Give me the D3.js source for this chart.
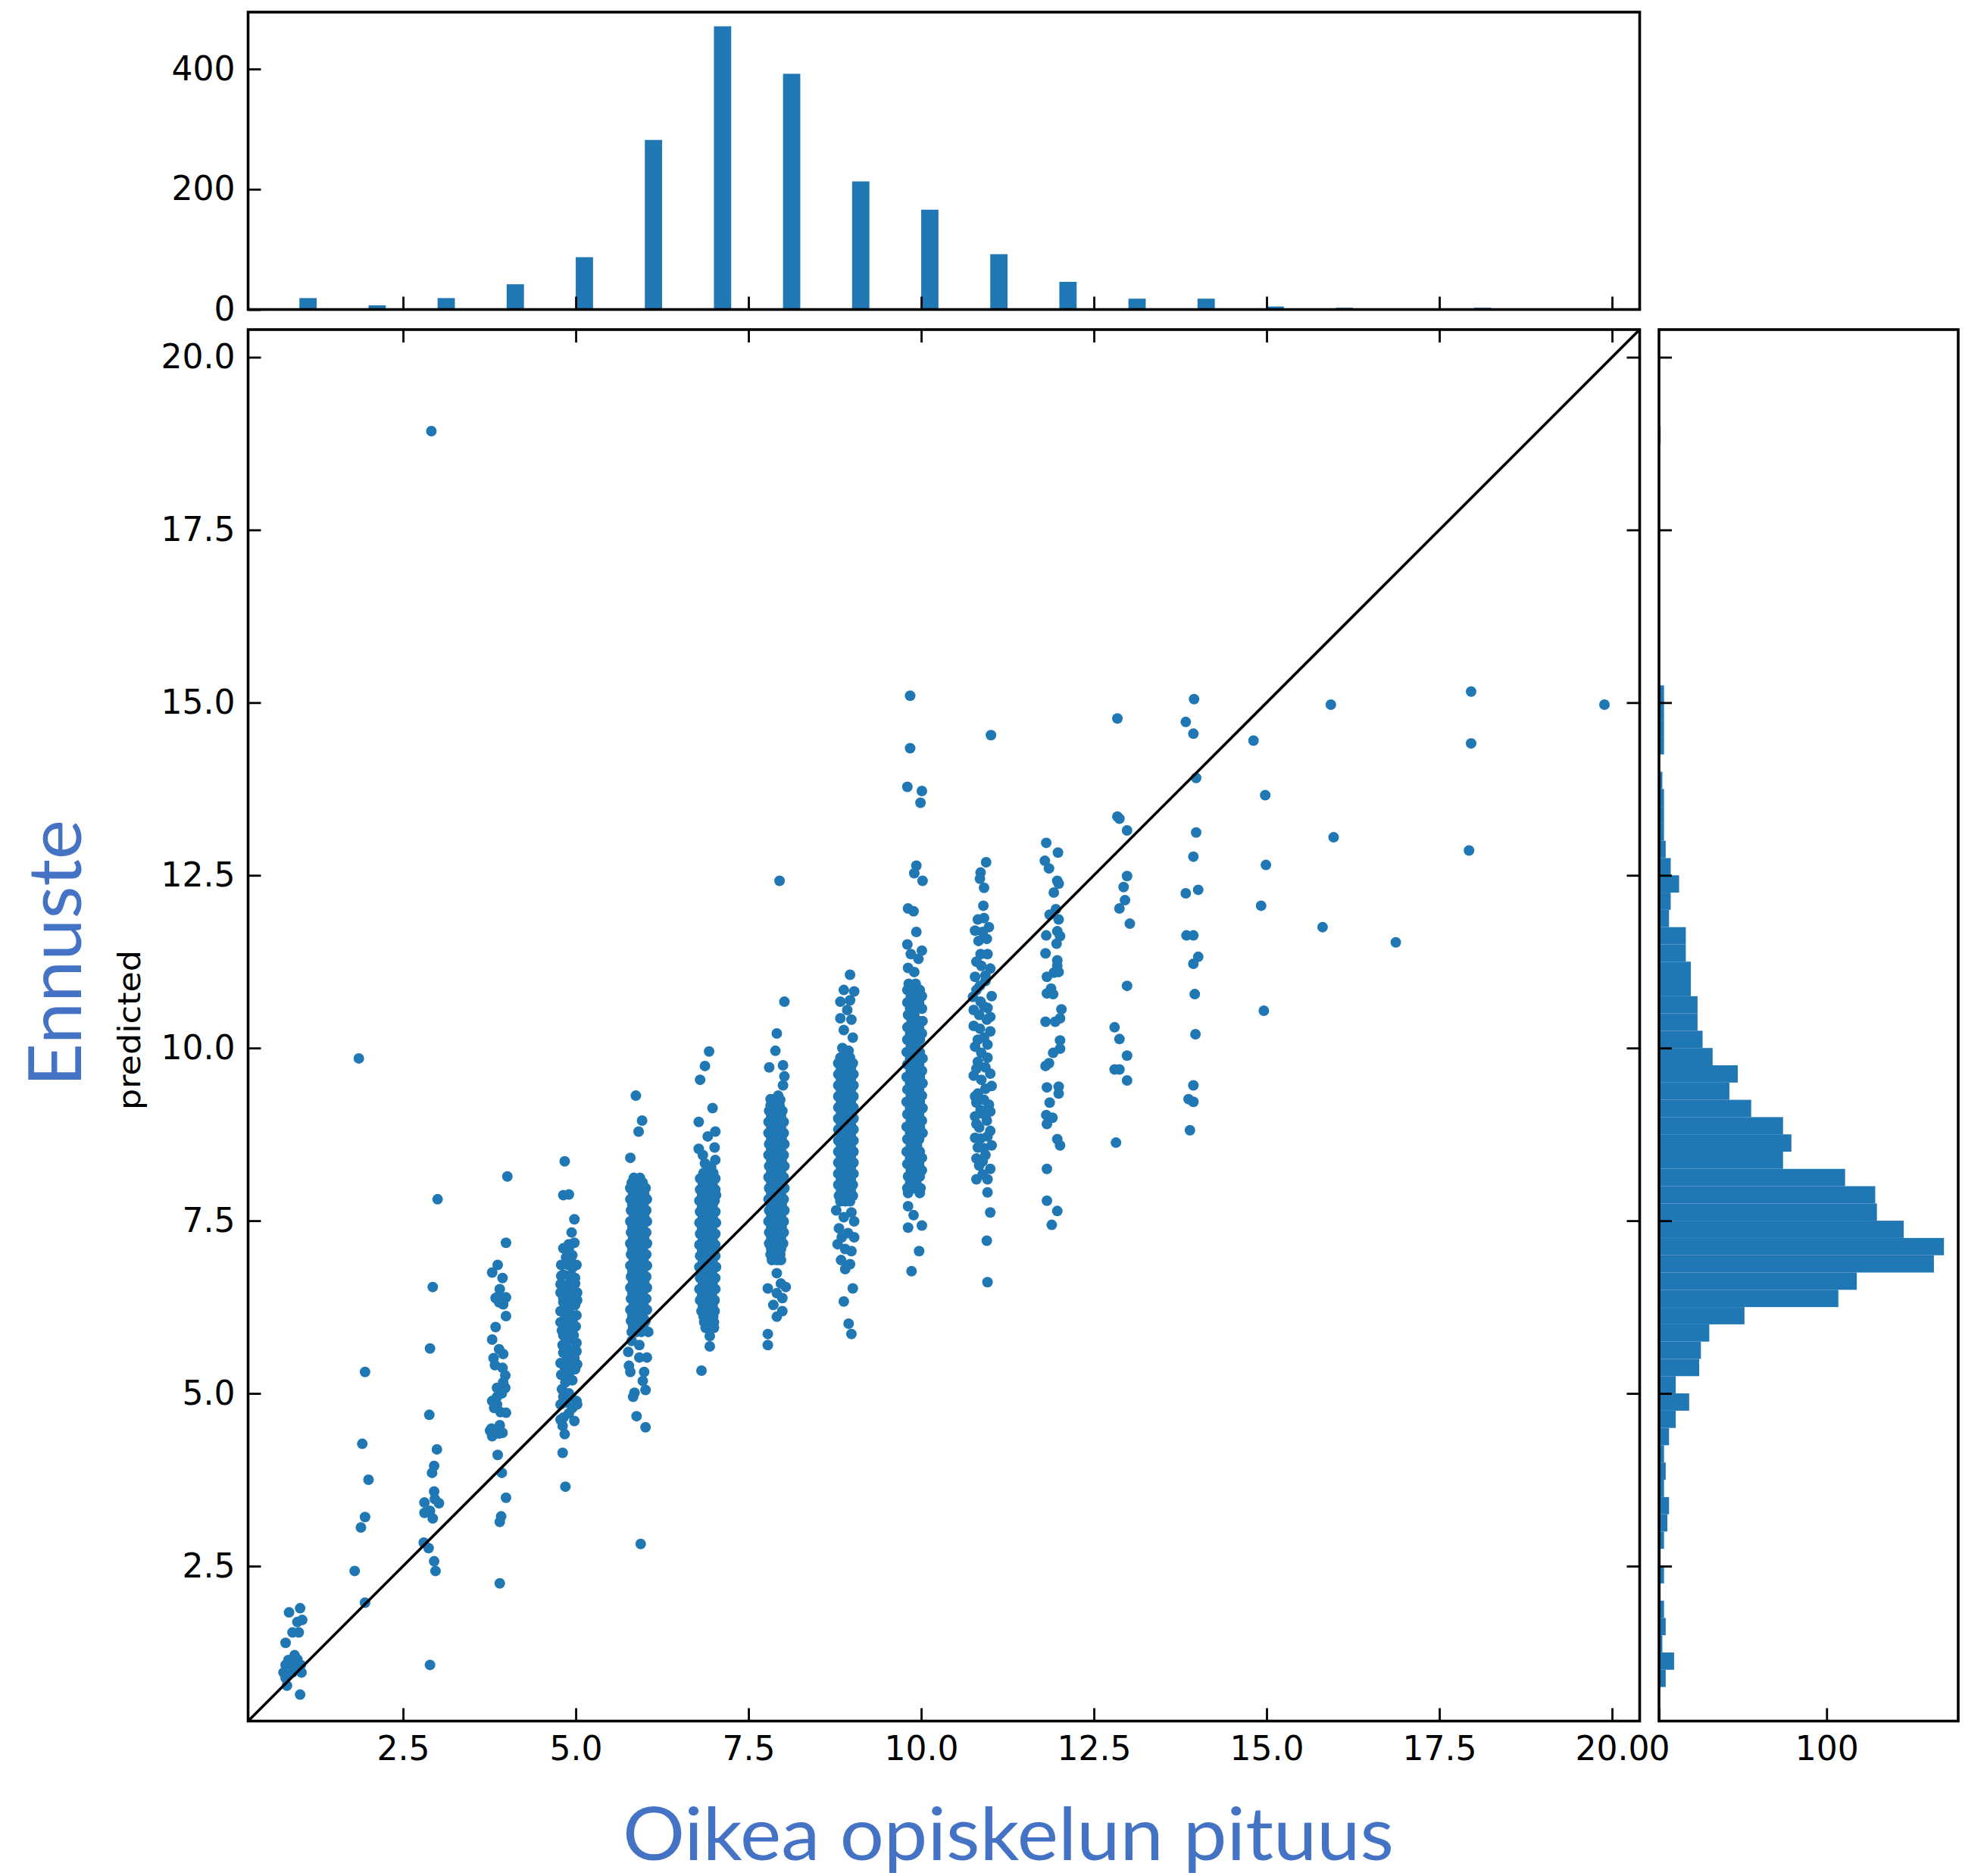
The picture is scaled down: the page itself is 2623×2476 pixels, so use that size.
<!DOCTYPE html>
<html>
<head>
<meta charset="utf-8">
<script src="https://cdn.jsdelivr.net/npm/d3@7"></script>
<style>
  body { margin: 0; background: #fff; }
  svg { display: block; }
</style>
</head>
<body>
<svg id="chart" width="2623" height="2476"></svg>
<script>
// ---------- data ----------
// Shared limits of the actual / predicted axes
const axisLimits = [0.257, 20.40];
const valueTicks = [2.5, 5.0, 7.5, 10.0, 12.5, 15.0, 17.5, 20.0];
const topCountTicks = [0, 200, 400];
const sideCountTicks = [0, 100];
const binWidth = 0.25;

// Histogram of actual study length: [bin start, count]
const actualHist = [[1,19],[2,7],[3,19],[4,42],[5,87],[6,282],[7,471],[8,392],[9,213],[10,166],
  [11,92],[12,46],[13,18],[14,18],[15,5],[16,3],[17,1],[18,3],[19.75,1]];

// Histogram of predicted study length: [bin start, count]
const predictedHist = [[0.75,4],[1.0,9],[1.25,2],[1.5,4],[1.75,3],[2.0,1],[2.25,3],[2.5,1],[2.75,3],
  [3.0,5],[3.25,6],[3.5,3],[3.75,4],[4.0,3],[4.25,6],[4.5,10],[4.75,18],[5.0,10],[5.25,24],[5.5,25],
  [5.75,30],[6.0,51],[6.25,107],[6.5,118],[6.75,164],[7.0,170],[7.25,146],[7.5,130],[7.75,129],
  [8.0,111],[8.25,74],[8.5,79],[8.75,74],[9.0,55],[9.25,42],[9.5,47],[9.75,32],[10.0,26],[10.25,23],
  [10.5,23],[10.75,19],[11.0,19],[11.25,16],[11.5,16],[11.75,6],[12.0,7],[12.25,12],[12.5,7],
  [12.75,4],[13.0,3],[13.25,3],[13.5,3],[13.75,2],[14.0,0],[14.25,3],[14.5,3],[14.75,3],[15.0,3],
  [18.75,1]];

// Individual students: [actual, predicted]
const g1 = [[0.85,1.83],[1.01,1.89],[0.97,1.69],[1.04,1.72],[0.90,1.54],[0.99,1.54],[0.80,1.39],
  [0.93,1.21],[0.84,1.14],[0.97,1.15],[0.80,1.07],[1.02,1.07],[0.77,0.96],[0.90,0.96],[1.03,0.96],
  [0.80,0.88],[0.82,0.77],[1.01,0.64],[0.88,1.10],[0.93,1.04]];
const g2 = [[1.95,5.31],[1.91,4.27],[2.00,3.75],[1.95,3.21],[1.89,3.06],[1.80,2.43],[1.95,1.97],[1.86,9.85]];
const g3 = [[3.00,7.81],[2.93,6.54],[2.89,5.65],[2.88,4.69],[2.99,4.19],[2.95,3.95],[2.92,3.85],
  [2.95,3.58],[2.81,3.42],[3.02,3.41],[2.96,3.47],[2.81,3.27],[2.89,3.30],[2.93,3.19],[2.80,2.84],
  [2.87,2.76],[2.95,2.57],[2.97,2.43],[2.89,1.07],[2.91,18.93]];
const g4 = [[4.01,8.14],[3.99,7.18],[3.87,6.86],[3.79,6.75],[3.94,6.67],[3.90,6.51],[3.84,6.38],
  [3.99,6.39],[3.89,6.32],[3.95,6.29],[3.99,6.12],[3.84,5.96],[3.79,5.78],[3.89,5.64],[3.95,5.57],
  [3.81,5.51],[3.94,5.37],[3.98,5.26],[3.86,5.08],[3.98,5.08],[3.93,5.00],[3.79,4.89],[3.86,4.84],
  [3.91,4.73],[3.99,4.72],[3.82,4.79],[3.78,4.49],[3.90,4.54],[3.94,4.43],[3.79,4.38],[3.87,4.11],
  [3.93,3.85],[3.99,3.49],[3.92,3.22],[3.90,3.14],[3.90,2.25],[3.76,4.46],[3.86,4.95],[3.87,6.40],
  [3.95,5.16],[3.83,5.41],[3.89,4.42]];
const g5 = [[4.84,8.36],[4.82,7.87],[4.90,7.88],[4.98,7.52],[4.94,7.33],[4.98,7.18],[4.82,7.10],
  [4.90,7.16],[4.81,4.53],[4.84,4.41],[4.81,4.14],[4.85,3.65],[4.90,7.10],[4.86,6.97],[4.95,7.00],
  [4.79,6.86],[4.89,6.86],[5.01,6.86],[4.82,6.72],[4.93,6.72],[4.78,6.58],[4.90,6.59],[4.99,6.59],
  [4.78,6.46],[4.86,6.45],[5.02,6.46],[4.82,6.32],[4.93,6.32],[4.99,6.28],[4.78,6.19],[4.90,6.19],
  [4.82,6.05],[4.95,6.05],[4.78,6.03],[4.88,5.97],[5.00,5.97],[4.80,5.91],[4.93,5.78],[4.86,5.70],
  [4.94,5.62],[5.01,5.61],[4.88,5.51],[4.78,5.44],[4.93,5.46],[5.02,5.42],[4.84,5.38],[4.99,5.35],
  [4.79,5.27],[4.90,5.27],[4.85,5.16],[4.80,5.06],[4.90,5.00],[4.78,4.84],[4.86,4.87],[5.01,4.89],
  [4.95,4.79],[4.90,4.71],[4.98,4.60],[4.96,6.83],[4.84,6.51],[4.95,6.51],[4.86,6.13],[5.01,6.13],
  [4.82,5.84],[4.97,5.84],[4.81,5.70],[5.01,5.73],[4.82,5.59],[4.98,5.51],[4.86,5.31],[4.95,5.19],
  [4.82,4.95],[4.93,4.95],[4.82,4.65],[5.02,4.84],[4.78,4.62],[4.92,6.94],[4.82,6.38],[4.90,5.92],
  [4.95,5.38],[4.89,5.49],[5.02,6.35],[4.79,6.70],[4.99,6.67],[4.86,6.27],[4.93,6.43]];
const g6 = [[5.87,9.31],[5.96,8.95],[5.91,8.79],[5.79,8.41],[5.81,5.76],[6.05,5.89],[5.92,5.70],
  [6.03,5.52],[5.92,5.52],[5.79,5.31],[5.99,5.31],[5.85,5.01],[6.01,5.05],[5.83,4.95],[5.88,4.67],
  [6.01,4.51],[5.94,2.82],[5.77,5.40],[5.97,5.18],[5.76,5.60]];
const g7 = [[6.93,9.95],[6.87,9.74],[6.80,9.54],[6.98,9.13],[6.78,8.93],[7.02,8.79],[6.91,8.72],
  [7.01,8.56],[6.78,8.54],[7.02,8.38],[6.87,8.33],[6.84,8.45],[6.96,8.28],[6.94,5.83],[6.94,5.68],[6.82,5.33]];
const g8 = [[7.95,12.42],[8.02,10.67],[7.91,10.21],[7.89,9.96],[7.80,9.72],[8.00,9.75],[8.02,9.59],
  [8.00,9.46],[7.93,9.31],[7.82,9.26],[7.91,6.74],[7.97,6.59],[7.78,6.52],[8.04,6.54],[7.91,6.45],
  [7.99,6.38],[7.86,6.28],[7.99,6.19],[7.91,6.11],[7.78,5.86],[7.78,5.70]];
const g9 = [[8.97,11.06],[8.88,10.84],[9.03,10.82],[8.83,10.67],[8.97,10.69],[8.83,10.43],[8.99,10.41],
  [9.01,10.15],[8.86,10.00],[8.95,9.96],[8.93,10.55],[8.88,10.26],[9.01,6.52],[8.88,6.33],[8.95,6.01],
  [8.99,5.86],[8.77,7.65],[8.88,7.55],[8.99,7.62],[8.81,7.39],[8.94,7.32],[9.03,7.26],[8.79,7.16],
  [8.90,7.09],[8.99,7.06],[8.84,6.93],[8.97,6.87],[8.90,6.80],[9.03,7.49],[8.85,7.26]];
const g10 = [[9.84,15.10],[9.84,14.34],[9.80,13.78],[10.01,13.72],[9.99,13.55],[9.93,12.64],[9.90,12.53],
  [10.02,12.42],[9.81,12.02],[9.89,11.98],[9.93,11.68],[9.80,11.50],[10.01,11.41],[9.85,11.36],
  [9.96,11.29],[9.81,11.16],[9.90,11.10],[9.81,7.90],[9.98,7.90],[9.81,7.71],[9.89,7.58],[9.81,7.40],
  [10.01,7.43],[9.97,7.06],[9.86,6.77]];
const g11 = [[11.01,14.53],[10.94,12.69],[10.86,12.54],[10.91,12.32],[10.85,12.45],[10.90,12.06],
  [10.82,11.86],[10.91,11.88],[10.89,11.68],[10.83,11.55],[10.95,11.58],[10.86,11.36],[10.96,11.36],
  [10.78,11.03],[11.00,11.15],[10.87,11.19],[10.80,10.84],[10.93,10.97],[11.02,10.75],[10.96,10.58],
  [10.84,10.48],[10.76,10.32],[10.95,10.41],[11.00,10.24],[10.82,10.12],[10.91,10.15],[10.78,10.02],
  [10.87,9.93],[10.96,9.86],[10.82,9.80],[11.00,9.63],[10.76,9.60],[10.87,9.54],[10.93,9.41],
  [10.82,9.34],[11.00,9.08],[10.89,9.05],[10.78,9.01],[10.84,8.85],[10.82,8.56],[10.91,8.55],
  [11.02,8.59],[10.86,8.69],[10.80,8.10],[10.89,8.17],[11.00,8.25],[10.96,7.91],[11.00,7.62],
  [10.95,7.21],[10.96,6.61],[10.75,10.74],[10.86,10.67],[10.80,9.21],[10.96,8.72],[10.89,8.36],
  [10.78,11.70],[10.98,11.75],[10.80,11.25],[10.93,11.05],[10.85,10.90],[10.76,10.55],[10.91,10.60],
  [11.00,10.45],[10.85,10.28],[10.96,10.05],[10.80,9.70],[10.93,9.72],[11.02,9.45],[10.78,9.30],
  [10.91,9.25],[10.98,9.18],[10.86,9.10],[10.80,8.90],[10.95,8.95],[11.00,8.80],[10.78,8.70],
  [10.93,8.45],[10.84,8.30],[10.80,8.40],[10.96,8.10]];
const g12 = [[11.81,12.97],[11.98,12.83],[11.79,12.71],[11.85,12.60],[11.97,12.42],[11.99,12.38],
  [11.92,12.25],[11.95,12.01],[11.86,11.93],[11.99,11.86],[11.97,11.69],[11.81,11.63],[12.01,11.62],
  [11.96,11.51],[11.80,11.37],[11.97,11.27],[11.97,11.19],[11.92,11.09],[11.99,11.10],[11.82,11.03],
  [11.88,10.86],[11.82,10.79],[11.91,10.78],[12.03,10.56],[11.80,10.38],[11.94,10.38],[12.01,10.43],
  [12.01,10.11],[11.91,9.93],[12.01,9.99],[11.80,9.74],[11.85,9.78],[11.82,9.43],[11.99,9.44],
  [11.99,9.34],[11.86,9.21],[11.81,9.03],[11.90,8.99],[11.82,8.90],[11.97,8.68],[12.01,8.59],
  [11.82,8.25],[11.82,7.79],[11.97,7.64],[11.89,7.44]];
const g13 = [[12.84,14.77],[12.84,13.35],[12.87,13.32],[12.98,13.15],[12.98,12.49],[12.93,12.33],
  [12.95,12.14],[12.87,12.02],[13.02,11.80],[12.98,10.90],[12.80,10.30],[12.87,10.13],[12.98,9.89],
  [12.80,9.69],[12.87,9.69],[12.98,9.53],[12.82,8.63]];
const g14 = [[13.95,15.05],[13.83,14.72],[13.94,14.55],[13.98,13.91],[13.98,13.12],[13.94,12.77],
  [13.83,12.24],[14.01,12.29],[13.84,11.63],[13.94,11.63],[14.01,11.32],[13.94,11.22],[13.96,10.78],
  [13.97,10.20],[13.94,9.46],[13.87,9.26],[13.94,9.22],[13.89,8.81]];
const gLong = [[14.81,14.45],[14.98,13.66],[14.99,12.65],[14.92,12.06],[14.96,10.54],[15.93,14.97],
  [15.97,13.05],[15.81,11.75],[16.87,11.53],[17.96,15.16],[17.96,14.41],[17.93,12.86],[19.89,14.97]];

// Dense columns: [predicted, [actual values sharing that prediction]]
const dense6 = [[8.12,[5.84,5.93]],[8.05,[5.81,5.89,5.97]],[7.97,[5.79,5.86,5.94,6.01]],
  [7.89,[5.83,5.91,5.99]],[7.81,[5.79,5.87,5.95,6.03]],[7.73,[5.82,5.90,5.98]],[7.65,[5.80,5.87,5.94,6.02]],
  [7.57,[5.84,5.91,5.99]],[7.49,[5.79,5.86,5.94,6.03]],[7.41,[5.82,5.90,5.97]],[7.33,[5.80,5.88,5.95,6.02]],
  [7.25,[5.83,5.91,5.99]],[7.17,[5.79,5.86,5.94,6.03]],[7.09,[5.82,5.90,5.97]],[7.01,[5.80,5.87,5.95,6.02]],
  [6.93,[5.84,5.91,5.98]],[6.85,[5.79,5.86,5.94,6.03]],[6.77,[5.82,5.90,5.97]],[6.69,[5.80,5.88,5.95,6.02]],
  [6.61,[5.83,5.91,5.99]],[6.53,[5.79,5.86,5.94,6.03]],[6.45,[5.82,5.90,5.97]],[6.37,[5.80,5.87,5.95,6.02]],
  [6.29,[5.84,5.91,5.98]],[6.21,[5.79,5.86,5.94,6.03]],[6.13,[5.82,5.90,5.97]],[6.05,[5.80,5.88,5.95,6.01]],
  [5.97,[5.83,5.91,5.98]],[5.89,[5.81,5.88,5.95]]];
const dense7 = [[8.19,[6.85,6.92,6.99]],[8.11,[6.80,6.87,6.94,7.02]],[8.03,[6.84,6.91,6.98]],
  [7.95,[6.80,6.87,6.94,7.02]],[7.87,[6.83,6.90,6.97,7.03]],[7.79,[6.79,6.86,6.94,7.01]],
  [7.71,[6.83,6.91,6.98]],[7.63,[6.80,6.87,6.94,7.02]],[7.55,[6.84,6.91,6.98]],[7.47,[6.79,6.86,6.94,7.03]],
  [7.39,[6.83,6.90,6.97]],[7.31,[6.80,6.87,6.94,7.02]],[7.23,[6.84,6.91,6.98]],[7.15,[6.79,6.86,6.94,7.02]],
  [7.07,[6.83,6.90,6.97]],[6.99,[6.80,6.87,6.94,7.02]],[6.91,[6.84,6.91,6.98]],[6.83,[6.79,6.86,6.94,7.03]],
  [6.75,[6.83,6.90,6.97]],[6.67,[6.80,6.87,6.94,7.02]],[6.59,[6.84,6.91,6.98]],[6.51,[6.79,6.86,6.94,7.02]],
  [6.43,[6.83,6.90,6.97]],[6.35,[6.80,6.87,6.94,7.01]],[6.27,[6.84,6.91,6.98]],[6.19,[6.82,6.89,6.96,7.01]],
  [6.11,[6.85,6.92,6.99]],[6.03,[6.86,6.93,7.00]],[5.95,[6.88,6.95,7.00]]];
const dense8 = [[9.25,[7.84,7.91,7.96]],[9.17,[7.82,7.88,7.95]],[9.09,[7.80,7.87,7.94,7.99]],
  [9.01,[7.83,7.90,7.97]],[8.93,[7.79,7.86,7.93,8.01]],[8.85,[7.83,7.90,7.97]],[8.77,[7.79,7.86,7.93,8.01]],
  [8.69,[7.83,7.90,7.98]],[8.61,[7.80,7.87,7.94,8.02]],[8.53,[7.83,7.90,7.97]],[8.45,[7.79,7.86,7.93,8.01]],
  [8.37,[7.83,7.90,7.98]],[8.29,[7.80,7.87,7.94,8.02]],[8.21,[7.83,7.90,7.97]],[8.13,[7.79,7.86,7.93,8.01]],
  [8.05,[7.83,7.90,7.98]],[7.97,[7.80,7.87,7.94,8.02]],[7.89,[7.83,7.90,7.97]],[7.81,[7.79,7.86,7.93,8.01]],
  [7.73,[7.83,7.90,7.98]],[7.65,[7.80,7.87,7.94,8.02]],[7.57,[7.83,7.90,7.97]],[7.49,[7.79,7.86,7.93,8.01]],
  [7.41,[7.83,7.90,7.98]],[7.33,[7.80,7.87,7.94,8.01]],[7.25,[7.83,7.90,7.97]],[7.17,[7.80,7.87,7.94,8.00]],
  [7.09,[7.83,7.90,7.97]],[7.01,[7.82,7.89,7.96]],[6.93,[7.84,7.91,7.97]]];
const dense9 = [[9.86,[8.83,8.90,8.97]],[9.78,[8.80,8.87,8.94,9.01]],[9.70,[8.84,8.91,8.98]],
  [9.62,[8.80,8.87,8.94,9.02]],[9.54,[8.84,8.91,8.98]],[9.46,[8.80,8.87,8.94,9.02]],[9.38,[8.84,8.91,8.98]],
  [9.30,[8.80,8.87,8.94,9.02]],[9.22,[8.84,8.91,8.98]],[9.14,[8.80,8.87,8.94,9.02]],[9.06,[8.84,8.91,8.98]],
  [8.98,[8.80,8.87,8.94,9.02]],[8.90,[8.84,8.91,8.98]],[8.82,[8.80,8.87,8.94,9.02]],[8.74,[8.84,8.91,8.98]],
  [8.66,[8.80,8.87,8.94,9.02]],[8.58,[8.84,8.91,8.98]],[8.50,[8.80,8.87,8.94,9.02]],[8.42,[8.84,8.91,8.98]],
  [8.34,[8.80,8.87,8.94,9.02]],[8.26,[8.84,8.91,8.98]],[8.18,[8.80,8.87,8.94,9.02]],[8.10,[8.84,8.91,8.98]],
  [8.02,[8.80,8.87,8.94,9.01]],[7.94,[8.84,8.91,8.98]],[7.86,[8.81,8.88,8.95,9.01]],[7.78,[8.83,8.90,8.97]]];
const dense10 = [[10.93,[9.82,9.92]],[10.84,[9.80,9.88,9.98]],[10.75,[9.85,9.95,10.01]],
  [10.66,[9.80,9.89,9.97]],[10.57,[9.84,9.93,10.01]],[10.48,[9.81,9.90]],[10.39,[9.86,9.96,10.02]],
  [10.30,[9.80,9.89,9.97]],[10.21,[9.84,9.93,10.01]],[10.12,[9.80,9.88,9.98]],[10.03,[9.85,9.94]],
  [9.94,[9.79,9.89,9.98]],[9.85,[9.84,9.93,10.02]],[9.76,[9.80,9.88,9.97]],[9.67,[9.85,9.94,10.01]],
  [9.58,[9.79,9.89,9.98]],[9.49,[9.84,9.93,10.02]],[9.40,[9.80,9.88,9.97]],[9.31,[9.85,9.94,10.01]],
  [9.22,[9.79,9.89,9.98]],[9.13,[9.84,9.93,10.02]],[9.04,[9.80,9.88,9.97]],[8.95,[9.85,9.94,10.01]],
  [8.86,[9.79,9.89,9.98]],[8.77,[9.84,9.93,10.02]],[8.68,[9.80,9.88,9.97]],[8.59,[9.85,9.94]],
  [8.50,[9.79,9.89,9.98]],[8.41,[9.84,9.93,10.01]],[8.32,[9.80,9.88,9.97]],[8.23,[9.85,9.94,10.01]],
  [8.14,[9.81,9.90,9.98]],[8.05,[9.84,9.93]],[7.97,[9.80,9.89,9.99]]];

// ---------- layout ----------
const BLUE = "#1f77b4";
const LABEL_BLUE = "#4472C4";
const mainBox = { x0: 327.5, x1: 2164.5, y0: 435, y1: 2271.5 };
const topBox = { x0: 327.5, x1: 2164.5, y0: 16, y1: 408.5 };
const sideBox = { x0: 2190, x1: 2585, y0: 435, y1: 2271.5 };
const TICK = 17;

const svg = d3.select("#chart");
svg.append("rect").attr("width", 2623).attr("height", 2476).attr("fill", "#fff");

const x = d3.scaleLinear().domain(axisLimits).range([mainBox.x0, mainBox.x1]);
const y = d3.scaleLinear().domain(axisLimits).range([mainBox.y1, mainBox.y0]);
const topMax = d3.max(actualHist, d => d[1]) * 1.05;
const sideMax = d3.max(predictedHist, d => d[1]) * 1.05;
const yTop = d3.scaleLinear().domain([0, topMax]).range([topBox.y1, topBox.y0]);
const xSide = d3.scaleLinear().domain([0, sideMax]).range([sideBox.x0, sideBox.x1]);

// ---------- marginal histograms ----------
svg.append("g").selectAll("rect").data(actualHist).join("rect")
  .attr("x", d => x(d[0]))
  .attr("width", d => x(d[0] + binWidth) - x(d[0]))
  .attr("y", d => yTop(d[1]))
  .attr("height", d => yTop(0) - yTop(d[1]))
  .attr("fill", BLUE);

svg.append("g").selectAll("rect").data(predictedHist).join("rect")
  .attr("x", xSide(0))
  .attr("width", d => xSide(d[1]) - xSide(0))
  .attr("y", d => y(d[0] + binWidth))
  .attr("height", d => y(d[0]) - y(d[0] + binWidth))
  .attr("fill", BLUE);

// ---------- scatter ----------
const fromRows = rows => rows.flatMap(([pred, actuals]) => actuals.map(a => [a, pred]));
const points = [].concat(g1, g2, g3, g4, g5, g6, g7, g8, g9, g10, g11, g12, g13, g14, gLong,
  fromRows(dense6), fromRows(dense7), fromRows(dense8), fromRows(dense9), fromRows(dense10));

svg.append("g").selectAll("circle").data(points).join("circle")
  .attr("cx", d => x(d[0]))
  .attr("cy", d => y(d[1]))
  .attr("r", 7)
  .attr("fill", BLUE);

// identity line
svg.append("path")
  .datum(axisLimits.map(v => [v, v]))
  .attr("d", d3.line().x(d => x(d[0])).y(d => y(d[1])))
  .attr("stroke", "#000").attr("stroke-width", 3.6).attr("fill", "none");

// ---------- axes ----------
function styleAxis(g) {
  g.attr("font-family", "'DejaVu Sans', sans-serif").attr("font-size", 44);
  g.select(".domain").remove();
  g.selectAll(".tick line").attr("stroke", "#000").attr("stroke-width", 2.8);
  g.selectAll(".tick text").attr("fill", "#000");
}
const none = () => "";
const fmt1 = d3.format(".1f");
const fmt0 = d3.format("d");

// main plot
svg.append("g").attr("transform", `translate(0,${mainBox.y1})`)
  .call(d3.axisBottom(x).tickValues(valueTicks).tickSizeInner(-TICK).tickSizeOuter(0).tickPadding(20).tickFormat(fmt1))
  .call(styleAxis);
svg.append("g").attr("transform", `translate(${mainBox.x0},0)`)
  .call(d3.axisLeft(y).tickValues(valueTicks).tickSizeInner(-TICK).tickSizeOuter(0).tickPadding(17).tickFormat(fmt1))
  .call(styleAxis);
svg.append("g").attr("transform", `translate(0,${mainBox.y0})`)
  .call(d3.axisTop(x).tickValues(valueTicks).tickSizeInner(-TICK).tickSizeOuter(0).tickFormat(none))
  .call(styleAxis);
svg.append("g").attr("transform", `translate(${mainBox.x1},0)`)
  .call(d3.axisRight(y).tickValues(valueTicks).tickSizeInner(-TICK).tickSizeOuter(0).tickFormat(none))
  .call(styleAxis);

// top histogram
svg.append("g").attr("transform", `translate(${topBox.x0},0)`)
  .call(d3.axisLeft(yTop).tickValues(topCountTicks).tickSizeInner(-TICK).tickSizeOuter(0).tickPadding(17).tickFormat(fmt0))
  .call(styleAxis);
svg.append("g").attr("transform", `translate(0,${topBox.y1})`)
  .call(d3.axisBottom(x).tickValues(valueTicks).tickSizeInner(-TICK).tickSizeOuter(0).tickFormat(none))
  .call(styleAxis);

// side histogram
svg.append("g").attr("transform", `translate(${sideBox.x0},0)`)
  .call(d3.axisLeft(y).tickValues(valueTicks).tickSizeInner(-TICK).tickSizeOuter(0).tickFormat(none))
  .call(styleAxis);
svg.append("g").attr("transform", `translate(0,${sideBox.y1})`)
  .call(d3.axisBottom(xSide).tickValues(sideCountTicks).tickSizeInner(-TICK).tickSizeOuter(0).tickPadding(20).tickFormat(fmt0))
  .call(styleAxis);

// frames
[mainBox, topBox, sideBox].forEach(b => {
  svg.append("rect")
    .attr("x", b.x0).attr("y", b.y0)
    .attr("width", b.x1 - b.x0).attr("height", b.y1 - b.y0)
    .attr("fill", "none").attr("stroke", "#000").attr("stroke-width", 3.6);
});

// ---------- titles ----------
svg.append("text")
  .attr("transform", "translate(107,1434) rotate(-90)")
  .attr("font-family", "Lato, 'Open Sans', sans-serif")
  .attr("font-size", 97)
  .attr("fill", LABEL_BLUE)
  .attr("textLength", 352).attr("lengthAdjust", "spacingAndGlyphs")
  .text("Ennuste");

svg.append("text")
  .attr("transform", "translate(185,1465) rotate(-90)")
  .attr("font-family", "'DejaVu Sans', sans-serif")
  .attr("font-size", 41)
  .attr("fill", "#000")
  .attr("textLength", 211).attr("lengthAdjust", "spacingAndGlyphs")
  .text("predicted");

svg.append("text")
  .attr("x", 822).attr("y", 2455)
  .attr("font-family", "Lato, 'Open Sans', sans-serif")
  .attr("font-size", 96)
  .attr("fill", LABEL_BLUE)
  .attr("textLength", 1018).attr("lengthAdjust", "spacingAndGlyphs")
  .text("Oikea opiskelun pituus");
</script>
</body>
</html>
